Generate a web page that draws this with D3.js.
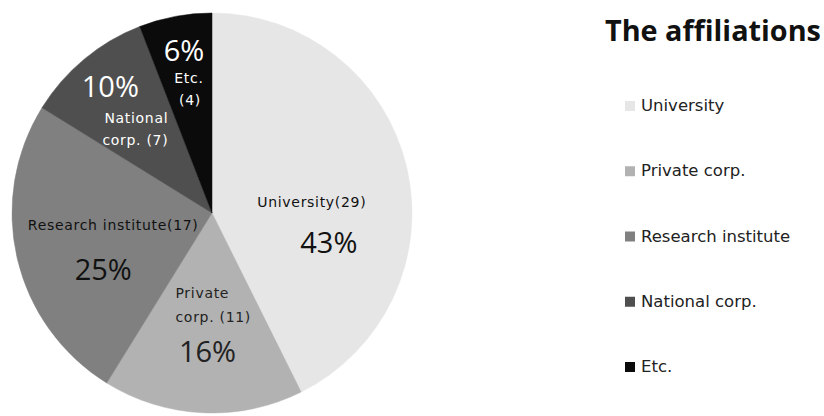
<!DOCTYPE html>
<html>
<head>
<meta charset="utf-8">
<script src="https://cdn.jsdelivr.net/npm/d3@7"></script>
<style>
  body { margin: 0; background: #fff; }
  svg { display: block; }
</style>
</head>
<body>
<div id="chart"></div>
<script>
// data
const categories = ["University", "Private corp.", "Research institute", "National corp.", "Etc."]
const counts = [29, 11, 17, 7, 4]
const sliceNames = [["University(29)"], ["Private", "corp. (11)"], ["Research institute(17)"], ["National", "corp. (7)"], ["Etc.", "(4)"]]
const chartTitle = "The affiliations"

const width = 824
const height = 416
const cx = 212, cy = 213, R = 200

const colors = ["#e6e6e6", "#b2b2b2", "#808080", "#4f4f4f", "#0b0b0b"]
const textColors = ["#111", "#222", "#111", "#fff", "#fff"]

// label nudges relative to the centroid at 0.6R (name lines, then percentage)
const labelPos = [
  { name: [[-17, 21]], pct: [0, 67], anchor: "middle" },
  { name: [[-31, -35], [-31, -11]], pct: [1, 29], anchor: "start" },
  { name: [[18, -10]], pct: [8, 40], anchor: "middle" },
  { name: [[1, 2], [0, 24]], pct: [-25, -24], anchor: "middle" },
  { name: [[-1, -12], [0, 10]], pct: [-6, -34], anchor: "middle" }
]

const svg = d3.select("#chart")
  .append("svg")
  .attr("width", width)
  .attr("height", height)

const total = d3.sum(counts)
const data = categories.map((c, i) => ({ name: c, value: counts[i], i: i }))

const color = d3.scaleOrdinal()
  .domain(categories)
  .range(colors)

const pie = d3.pie()
  .sort(null)
  .value(d => d.value)

const arc = d3.arc()
  .innerRadius(0)
  .outerRadius(R)

const labelArc = d3.arc()
  .innerRadius(R * 0.6)
  .outerRadius(R * 0.6)

const g = svg.append("g")
  .attr("transform", `translate(${cx},${cy})`)

const arcs = pie(data)

g.selectAll("path")
  .data(arcs)
  .enter()
  .append("path")
  .attr("d", arc)
  .attr("fill", d => color(d.data.name))
  .attr("stroke", d => color(d.data.name))
  .attr("stroke-width", 0.5)

const labels = g.selectAll("g.lbl")
  .data(arcs)
  .enter()
  .append("g")
  .attr("class", "lbl")

labels.each(function(d) {
  const k = d.data.i
  const [x0, y0] = labelArc.centroid(d)
  const lp = labelPos[k]
  const el = d3.select(this)
  sliceNames[k].forEach((line, j) => {
    el.append("text")
      .attr("x", x0 + lp.name[j][0])
      .attr("y", y0 + lp.name[j][1])
      .attr("text-anchor", lp.anchor)
      .style("font-family", "'DejaVu Sans', sans-serif")
      .style("font-size", "14px")
      .style("letter-spacing", "0.7px")
      .style("fill", textColors[k])
      .text(line)
  })
  el.append("text")
    .attr("x", x0 + lp.pct[0])
    .attr("y", y0 + lp.pct[1])
    .attr("text-anchor", "middle")
    .style("font-family", "'Open Sans', sans-serif")
    .style("font-size", "29px")
    .style("fill", textColors[k])
    .text(Math.round(d.data.value / total * 100) + "%")
})

// title
svg.append("text")
  .attr("x", 605)
  .attr("y", 41)
  .style("font-family", "'Open Sans', sans-serif")
  .style("font-weight", "bold")
  .style("font-size", "28.8px")
  .style("fill", "#111")
  .text(chartTitle)

// legend
const legendY = d3.scalePoint()
  .domain(categories)
  .range([111, 372])

const legend = svg.append("g")
  .attr("class", "legend")
  .selectAll("g")
  .data(categories)
  .enter()
  .append("g")
  .attr("transform", d => `translate(625,${legendY(d)})`)

legend.append("rect")
  .attr("x", 0)
  .attr("y", -10)
  .attr("width", 10)
  .attr("height", 10)
  .style("fill", d => color(d))

legend.append("text")
  .attr("x", 16)
  .attr("y", 0)
  .style("font-family", "'DejaVu Sans', sans-serif")
  .style("font-size", "16.5px")
  .style("fill", "#222")
  .text(d => d)
</script>
</body>
</html>
